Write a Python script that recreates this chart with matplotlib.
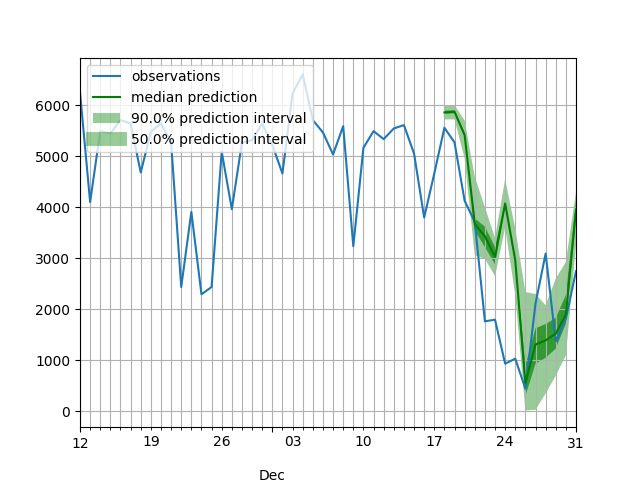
import numpy as np
import pandas as pd
import matplotlib
matplotlib.use("Agg")
import matplotlib.pyplot as plt

# Observaciones diarias (12 nov - 31 dic 2018)
fechas_obs = pd.period_range("2018-11-12", "2018-12-31", freq="D")
observaciones = [6250, 4100, 5490, 5445, 5706, 5640, 4680, 5477, 5640, 5268,
                 2437, 3908, 2294, 2437, 5085, 3961, 5268, 5314, 5640, 5216,
                 4660, 6229, 6601, 5706, 5464, 5033, 5588, 3235, 5163, 5490,
                 5333, 5542, 5608, 5052, 3797, 4660, 5556, 5268, 4124, 3712,
                 1765, 1797, 935, 1033, 445, 2112, 3092, 1373, 1817, 2745]

# Pronostico (18 dic - 31 dic 2018)
fechas_pred = pd.period_range("2018-12-18", "2018-12-31", freq="D")
mediana = [5856, 5869, 5412, 3670, 3430, 3026, 4072, 2961, 560, 1310, 1392, 1523, 1900, 3950]
p05 = [5720, 5720, 4950, 3050, 2990, 2650, 3600, 2280, 20, 30, 350, 700, 1100, 3250]
p25 = [5830, 5840, 5380, 3540, 3220, 2880, 4030, 2920, 300, 935, 1050, 1230, 1720, 3800]
p75 = [5890, 5900, 5450, 3780, 3620, 3220, 4120, 3000, 900, 1630, 1710, 1830, 2280, 4120]
p95 = [5990, 6000, 5700, 4600, 4000, 3400, 4550, 3580, 2340, 2300, 2080, 2600, 2930, 4300]

intervalos = [50.0, 90.0]
leyenda = ["observations", "median prediction"] + \
    [f"{k}% prediction interval" for k in intervalos][::-1]

fig, ax = plt.subplots(figsize=(6.4, 4.8), dpi=100)
pd.Series(observaciones, index=fechas_obs).plot(ax=ax)
pd.Series(mediana, index=fechas_pred).plot(ax=ax, color="g", ls="-")

# ordinales de periodo = unidades del eje x de pandas
x = fechas_pred.asi8
for bajo, alto, p in [(p05, p95, 5.0), (p25, p75, 25.0)]:
    alpha = (p / 100.0) ** 0.3
    ax.fill_between(x, bajo, alto, facecolor="g", alpha=alpha, interpolate=True)
    # truco para la etiqueta de la leyenda (un solo punto, no dibuja nada)
    ax.plot(x[:1], mediana[:1], color="g", alpha=alpha, linewidth=10)

ax.grid(which="both")
ax.legend(leyenda, loc="upper left")
fig.savefig("out.png")
